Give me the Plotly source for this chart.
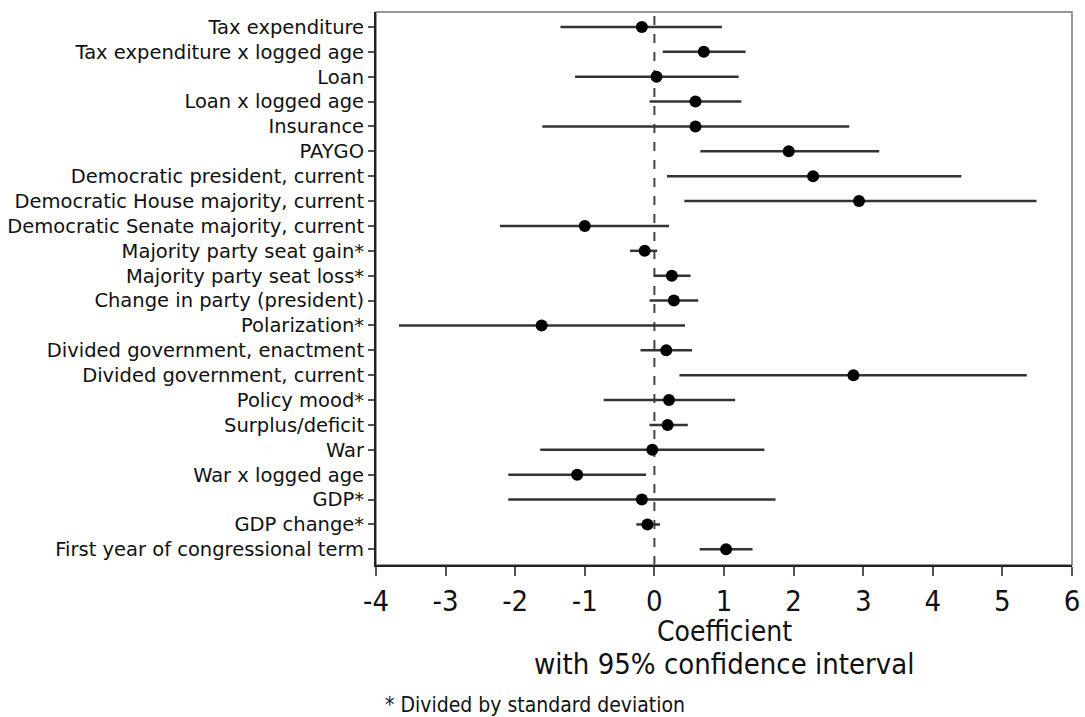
import plotly.graph_objects as go

# Regression coefficients with 95% confidence intervals
variables = [
    "Tax expenditure",
    "Tax expenditure x logged age",
    "Loan",
    "Loan x logged age",
    "Insurance",
    "PAYGO",
    "Democratic president, current",
    "Democratic House majority, current",
    "Democratic Senate majority, current",
    "Majority party seat gain*",
    "Majority party seat loss*",
    "Change in party (president)",
    "Polarization*",
    "Divided government, enactment",
    "Divided government, current",
    "Policy mood*",
    "Surplus/deficit",
    "War",
    "War x logged age",
    "GDP*",
    "GDP change*",
    "First year of congressional term",
]
coef = [-0.18, 0.71, 0.03, 0.59, 0.59, 1.93, 2.28, 2.94, -1.0, -0.14, 0.25, 0.28,
        -1.62, 0.17, 2.86, 0.21, 0.19, -0.03, -1.11, -0.18, -0.10, 1.03]
ci_low = [-1.35, 0.12, -1.14, -0.07, -1.61, 0.66, 0.18, 0.43, -2.22, -0.35, 0.0, -0.07,
          -3.67, -0.20, 0.36, -0.73, -0.07, -1.64, -2.10, -2.10, -0.26, 0.65]
ci_high = [0.97, 1.31, 1.21, 1.25, 2.80, 3.23, 4.41, 5.49, 0.21, 0.04, 0.52, 0.63,
           0.44, 0.54, 5.35, 1.16, 0.48, 1.58, -0.12, 1.74, 0.08, 1.41]
x_ticks = [-4, -3, -2, -1, 0, 1, 2, 3, 4, 5, 6]

rows = list(range(len(variables)))
err_plus = [h - c for h, c in zip(ci_high, coef)]
err_minus = [c - l for c, l in zip(coef, ci_low)]

LABEL_FONT = "DejaVu Sans, Verdana, sans-serif"
NARROW_FONT = "DejaVu Sans Condensed, Liberation Sans Narrow, DejaVu Sans, sans-serif"

fig = go.Figure()

fig.add_trace(go.Scatter(
    x=coef,
    y=rows,
    mode="markers",
    marker=dict(color="black", size=12),
    error_x=dict(
        type="data",
        symmetric=False,
        array=err_plus,
        arrayminus=err_minus,
        color="#333333",
        thickness=2.5,
        width=0,
    ),
    showlegend=False,
    hoverinfo="skip",
))

# vertical reference line at zero
fig.add_shape(type="line", xref="x", yref="paper", x0=0, x1=0, y0=0, y1=1,
              line=dict(color="#444444", width=2, dash="dash"), layer="below")
# light frame on top and right
fig.add_shape(type="rect", xref="paper", yref="paper", x0=0, x1=1, y0=0, y1=1,
              line=dict(color="#777777", width=1.5), layer="below")

fig.update_layout(
    width=1085,
    height=717,
    margin=dict(l=376, r=13, t=12, b=152),
    plot_bgcolor="white",
    paper_bgcolor="white",
    xaxis=dict(
        range=[-4, 6],
        automargin=False,
        tickmode="array",
        tickvals=x_ticks,
        ticktext=[str(t) for t in x_ticks],
        ticks="outside",
        ticklen=9,
        tickwidth=1.5,
        tickcolor="#555555",
        showgrid=False,
        zeroline=False,
        showline=True,
        linecolor="#222222",
        linewidth=2,
        tickfont=dict(family=NARROW_FONT, size=29, color="#111111"),
    ),
    yaxis=dict(
        range=[21.63, -0.6],
        automargin=False,
        tickmode="array",
        tickvals=rows,
        ticktext=variables,
        ticks="outside",
        ticklen=6,
        tickwidth=1.5,
        tickcolor="#555555",
        showgrid=False,
        zeroline=False,
        showline=True,
        linecolor="#222222",
        linewidth=2,
        tickfont=dict(family=LABEL_FONT, size=19.5, color="#111111"),
    ),
    annotations=[
        dict(text="Coefficient", xref="paper", yref="paper", x=0.5, y=(565 - 632) / 553,
             showarrow=False, xanchor="center", yanchor="middle",
             font=dict(family=NARROW_FONT, size=28, color="#111111")),
        dict(text="with 95% confidence interval", xref="paper", yref="paper", x=0.5,
             y=(565 - 664) / 553, showarrow=False, xanchor="center", yanchor="middle",
             font=dict(family=NARROW_FONT, size=29, color="#111111")),
        dict(text="* Divided by standard deviation", xref="paper", yref="paper",
             x=(383 - 376) / 696, y=(565 - 705) / 553, showarrow=False,
             xanchor="left", yanchor="middle",
             font=dict(family=NARROW_FONT, size=21, color="#111111")),
    ],
)

fig.write_html("out.html")
